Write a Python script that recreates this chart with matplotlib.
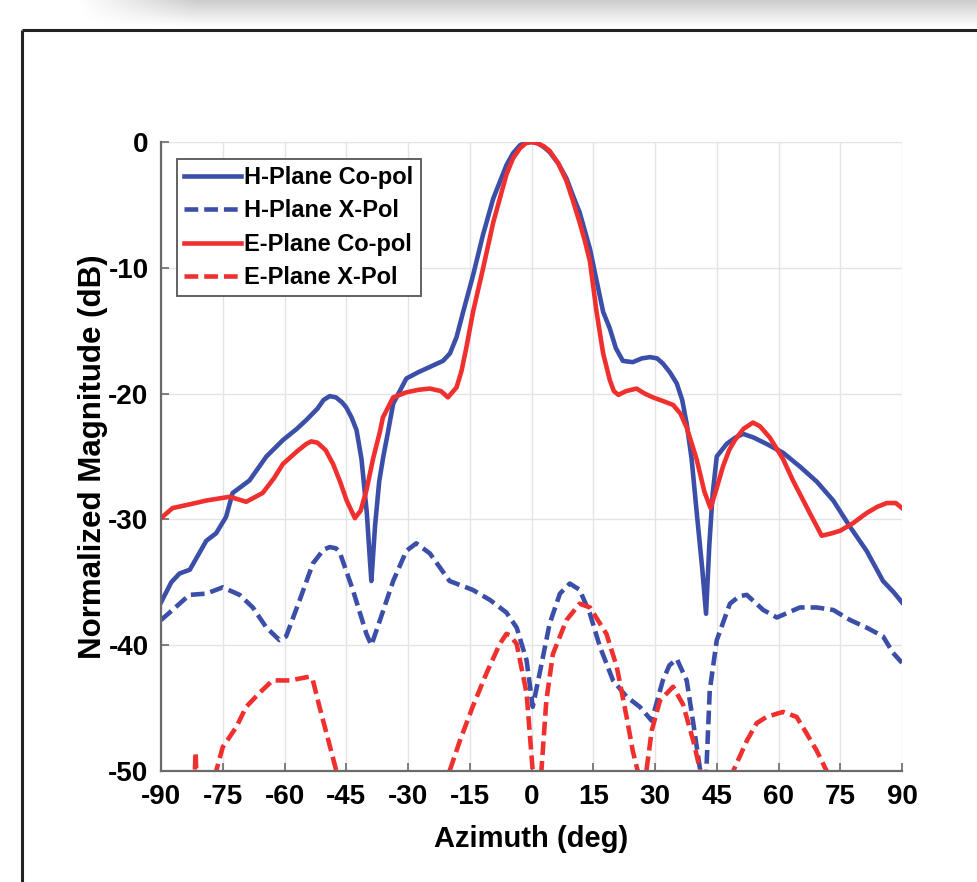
import numpy as np
import matplotlib
matplotlib.use("Agg")
import matplotlib.pyplot as plt
from matplotlib.lines import Line2D

plt.rcParams['font.family'] = ['Liberation Sans', 'DejaVu Sans']
plt.rcParams['font.weight'] = 'bold'

# ---------------- data ----------------
h_co_x = [-90, -87.5, -85.5, -83, -79, -76.6, -74.2, -72.6, -68.5, -64.4, -60.4, -57, -54.7, -52,
          -50.5, -49, -47.5, -46, -45, -43.7, -42.5, -41.3, -40, -39.3, -38.9, -38, -37, -36, -35, -33.6,
          -30.4, -27.5, -25.5, -23.5, -21.5, -19.8, -18.2, -16.6, -14.2, -11.8, -9.3, -6.1, -4.5, -2.8,
          -1.4, 0, 1.5, 3, 4.4, 6.5, 8.5, 10, 11.7, 14.2, 17.4, 19, 20.5, 22.2, 24.6, 26.8, 28.8, 30.5,
          31.9, 33.6, 35.3, 36.6, 37.7, 38.9, 40, 41.5, 42.4, 43.2, 44, 45, 47.4, 49.5, 51.4, 54,
          57.1, 61.1, 65.2, 69.3, 73.3, 77.4, 81.4, 85.4, 88, 90]
h_co_y = [-36.6, -35.0, -34.3, -34.0, -31.7, -31.1, -29.8, -27.9, -26.9, -25.0, -23.7, -22.8, -22.1, -21.2,
          -20.5, -20.2, -20.3, -20.7, -21.1, -21.9, -22.9, -25.2, -29.5, -33.0, -34.9, -30.5, -27.0, -25.0, -23.3, -20.8,
          -18.8, -18.3, -18.0, -17.7, -17.4, -16.8, -15.5, -13.5, -10.6, -7.4, -4.5, -1.85, -0.9, -0.26,
          -0.05, 0, -0.1, -0.4, -0.8, -1.7, -2.9, -4.2, -5.6, -8.5, -13.5, -14.8, -16.4, -17.4, -17.5, -17.2, -17.1, -17.2,
          -17.6, -18.3, -19.2, -20.5, -22.4, -25.2, -29.0, -34.0, -37.5, -32.0, -28.0, -25.0, -24.0, -23.5, -23.2, -23.5,
          -24.0, -24.7, -25.8, -27.0, -28.5, -30.6, -32.5, -34.9, -35.8, -36.6]

h_x_x = [-90, -87.2, -83.1, -79, -75, -70.9, -67.7, -64.4, -61.2, -59.6, -56.3, -53.1, -50.5, -49, -47.5,
         -46.6, -43.4, -40.1, -38.9, -36.8, -33.6, -30.4, -28, -24.7, -19.9, -14.3, -10.1, -7.7, -6.1, -3.6,
         -1.2, 0.3, 2.0, 4.4, 6.9, 9.3, 11.7, 14.2, 16.6, 19.8, 23.1, 26.3, 29.2, 31.9, 33.5, 35.3, 37.7,
         39.3, 41.0, 41.7, 42.4, 43.3, 45, 48.2, 50.5, 52.3, 56.3, 59.6, 65.2, 69.3, 73.3, 77.4, 81.4, 85.4,
         87.8, 90]
h_x_y = [-38.0, -37.2, -36.0, -35.9, -35.4, -36.0, -37.0, -38.6, -39.6, -39.3, -36.4, -33.5, -32.4, -32.2, -32.3,
         -32.6, -35.6, -39.1, -40.0, -38.0, -34.9, -32.5, -31.9, -32.7, -34.9, -35.6, -36.4, -37.0, -37.4, -38.6,
         -41.2, -44.9, -42.2, -38.3, -35.9, -35.1, -35.6, -37.5, -40.1, -42.8, -44.1, -44.9, -46.0, -42.8, -41.6, -41.1, -42.8,
         -46.2, -50.0, -53.0, -50.5, -43.6, -39.6, -36.7, -36.1, -36.0, -37.2, -37.8, -37.0, -37.0, -37.2, -38.0, -38.6, -39.3,
         -40.6, -41.4]

e_co_x = [-90, -87.2, -83, -79, -73.3, -69.3, -65.3, -62.5, -60.4, -57, -54.7, -53.5, -52, -50, -48.2,
          -46.5, -44.9, -42.9, -41.5, -40.1, -38.5, -36.8, -36.1, -33.6, -30.4, -27.5, -24.7, -22, -20.3,
          -18.2, -17, -15.8, -14.2, -11.8, -9.3, -6.1, -4.5, -2.8, -1.4, 0, 1.5, 3, 4.4, 6.5, 8.5, 10,
          11.7, 13, 14.2, 15.8, 17.4, 19, 20, 21.1, 23, 25.5, 27.5, 29.5, 32, 34.4, 36.2, 37.7, 40.1, 42,
          43.5, 45, 46.5, 48, 49.4, 51.5, 53.8, 55.5, 57.9, 61.1, 63.5, 67.6, 70.5, 73, 75, 78.1, 81.4,
          84, 86.3, 88.5, 90]
e_co_y = [-29.9, -29.1, -28.8, -28.5, -28.2, -28.6, -27.9, -26.7, -25.6, -24.6, -24.0, -23.8, -23.9, -24.5, -25.6,
          -27.0, -28.5, -29.9, -29.3, -27.7, -25.2, -23.0, -21.9, -20.3, -19.9, -19.7, -19.6, -19.8, -20.3,
          -19.5, -18.2, -16.3, -13.5, -10.1, -6.4, -2.6, -1.3, -0.5, -0.1, 0, -0.1, -0.35, -0.7, -1.7, -3.1, -4.6,
          -6.4, -7.9, -9.5, -13.5, -16.8, -18.9, -19.8, -20.1, -19.8, -19.6, -20.0, -20.3, -20.6, -20.9, -21.6, -22.7, -25.2, -27.8,
          -29.1, -27.5, -25.8, -24.5, -23.7, -22.8, -22.3, -22.6, -23.5, -25.2, -26.9, -29.5, -31.3, -31.1, -30.9, -30.3, -29.5,
          -29.0, -28.7, -28.7, -29.1]

e_x_x = [-90, -84, -82, -81.6, -81.2, -79, -76.6, -75, -71.7, -69.3, -66.1, -62.9, -58.7, -53.9, -53.1,
         -51.5, -49.8, -47.4, -45, -30, -19.9, -17.4, -14.3, -10.9, -7.7, -6.1, -5.3, -3.6, -1.2, 0.3,
         1.3, 2.4, 3.6, 5.2, 8.5, 11.7, 14.2, 18.2, 20.7, 23.1, 24.6, 25.8, 26.8, 27.9, 29.2, 31.2, 34.4,
         36.8, 39.3, 41, 45, 49, 52.3, 54.7, 57.1, 61.1, 64.4, 66.8, 69.3, 71.7, 75, 85, 90]
e_x_y = [-60, -56, -52, -48.5, -52, -55, -50, -48.1, -46.5, -44.9, -43.8, -42.8, -42.8, -42.5, -42.8,
         -44.9, -47.0, -50, -55, -60, -50, -47.6, -44.9, -42.2, -39.9, -39.1, -39.2, -39.9, -43.8, -50,
         -55, -50, -44.4, -40.7, -38.0, -36.7, -37.0, -39.1, -41.7, -45.7, -48.4, -50, -52, -50, -46.8, -44.4, -43.3,
         -44.7, -47.6, -50, -58, -50, -47.6, -46.2, -45.7, -45.3, -45.7, -47.0, -48.4, -50, -55, -60, -60]

labels = ["H-Plane Co-pol", "H-Plane X-Pol", "E-Plane Co-pol", "E-Plane X-Pol"]
x_ticks = list(range(-90, 91, 15))
y_ticks = [0, -10, -20, -30, -40, -50]

BLUE = "#3b4fa9"
RED = "#f0302e"

# ---------------- figure ----------------
W, H = 978, 882
fig = plt.figure(figsize=(W / 100, H / 100), dpi=100)
fig.patch.set_facecolor("white")

# top shadow band
sh = fig.add_axes([0, 1 - 27 / H, 1, 27 / H])
gy = np.linspace(0.80, 1.0, 30)[:, None]
gx = np.clip((np.linspace(0, 1, 400)[None, :] - 0.08) / 0.12, 0, 1)
img = 1.0 - (1.0 - gy) * gx
sh.imshow(img, cmap="gray", vmin=0, vmax=1, aspect="auto", interpolation="bilinear")
sh.axis("off")

# outer frame
fig.add_artist(Line2D([22 / W, 1.0], [1 - 29.5 / H, 1 - 29.5 / H], transform=fig.transFigure,
                      color="#222222", lw=2.2, solid_capstyle="butt"))
fig.add_artist(Line2D([22 / W, 22 / W], [1 - 29.5 / H, 0], transform=fig.transFigure,
                      color="#222222", lw=2.2, solid_capstyle="butt"))

ax = fig.add_axes([161 / W, 1 - 771 / H, (902 - 161) / W, (771 - 142) / H])

lw = 3.3
ax.plot(h_co_x, h_co_y, color=BLUE, lw=lw, label=labels[0], solid_joinstyle="round")
ax.plot(h_x_x, h_x_y, color=BLUE, lw=lw, ls=(0, (3.0, 1.3)), label=labels[1])
ax.plot(e_co_x, e_co_y, color=RED, lw=lw, label=labels[2], solid_joinstyle="round")
ax.plot(e_x_x, e_x_y, color=RED, lw=lw, ls=(0, (3.0, 1.3)), label=labels[3])

ax.set_xlim(-90, 90)
ax.set_ylim(-50, 0)
ax.set_xticks(x_ticks)
ax.set_yticks(y_ticks)
ax.set_xticklabels([str(t) for t in x_ticks])
ax.set_yticklabels([str(t) for t in y_ticks])
ax.grid(True, color="#e4e4e4", lw=1.0)
ax.set_axisbelow(True)
for s in ["top", "right"]:
    ax.spines[s].set_visible(False)
for s in ["left", "bottom"]:
    ax.spines[s].set_color("#6a6a6a")
    ax.spines[s].set_linewidth(1.6)
ax.tick_params(direction="in", length=6, width=1.2, color="#6a6a6a", labelsize=20, pad=9)
for t in ax.get_xticklabels() + ax.get_yticklabels():
    t.set_fontweight("bold")

ax.set_xlabel("Azimuth (deg)", fontsize=21, fontweight="bold", labelpad=11)
ax.set_ylabel("Normalized Magnitude (dB)", fontsize=22.5, fontweight="bold", labelpad=0)

leg = ax.legend(loc="upper left", bbox_to_anchor=(0.0216, 0.973), fontsize=17,
                handlelength=2.4, handletextpad=0.15, labelspacing=0.44, borderpad=0.3,
                borderaxespad=0, fancybox=False, framealpha=1, edgecolor="#555555")
leg.get_frame().set_linewidth(1.3)
for t in leg.get_texts():
    t.set_fontweight("bold")

fig.savefig("out.png", dpi=100)
